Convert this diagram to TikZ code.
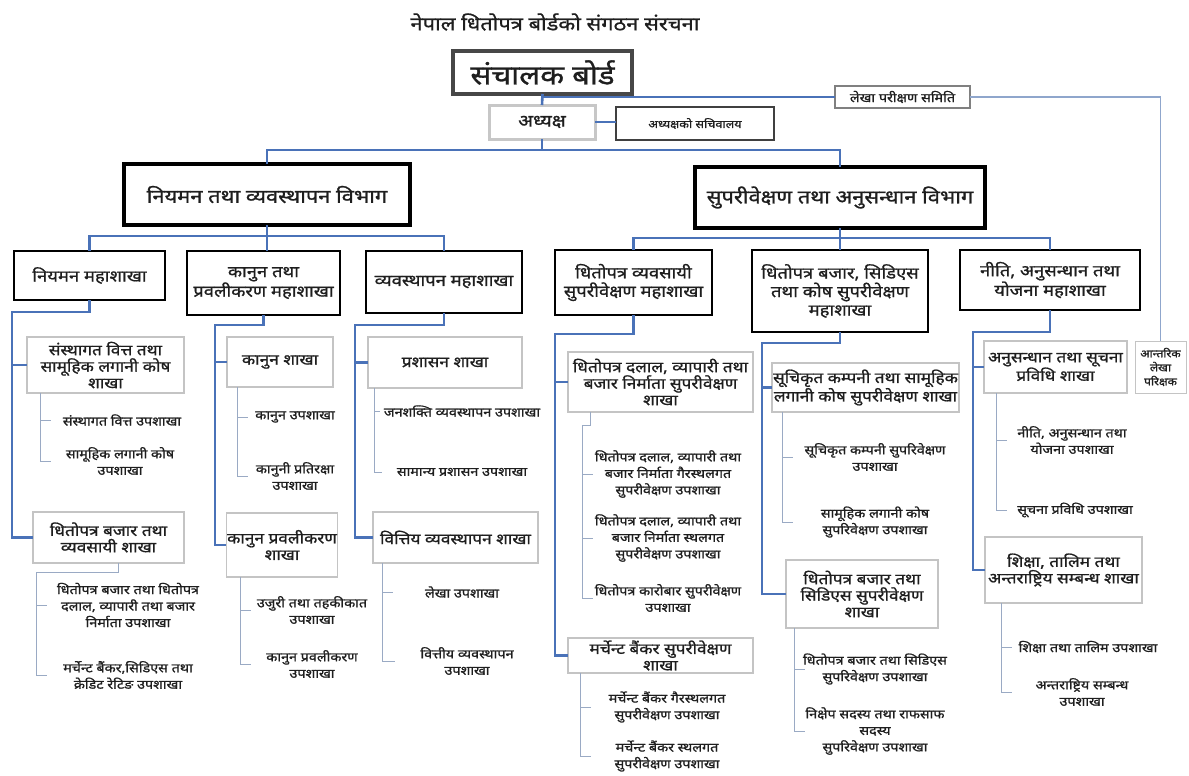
\documentclass[tikz,border=0pt]{standalone}
\usepackage{fontspec}
\setmainfont[Script=Devanagari, FakeStretch=1.15, FakeBold=1]{Noto Sans}
\usetikzlibrary{calc}
\definecolor{cblue}{HTML}{4A72B8}
\definecolor{csub}{HTML}{9AAAC4}
\definecolor{cgrey}{HTML}{C4C4C4}
\definecolor{ctext}{HTML}{1E1E1E}
\definecolor{caud}{HTML}{8FA6CC}
\newcommand\myfs[2]{\fontsize{#1}{#2}\selectfont}
\newcommand\bx[7]{\node[#6, minimum width={(#4-#2)*1pt}, minimum height={(#5-#3)*1pt}] (#1) at ({(#2+#4)/2},{(#3+#5)/2}) {#7};}
\begin{document}
\begin{tikzpicture}[x=1pt,y=-1pt,
  every node/.style={inner sep=1pt, outer sep=0pt, align=center, text=ctext},
  conn/.style={draw=cblue, line width=2.6pt},
  audl/.style={draw=caud, line width=1.5pt},
  subl/.style={draw=csub, line width=1pt},
  boardbox/.style={draw=black!72, line width=3.5pt, font=\myfs{27}{32}},
  adhbox/.style={draw=black!22, line width=3pt, font=\myfs{17}{20}},
  smallbox/.style={draw=black!75, line width=1.2pt, font=\myfs{11}{13}},
  audbox/.style={draw=black!50, line width=1.2pt, font=\myfs{12.5}{14}},
  antbox/.style={draw=cgrey, line width=1pt, font=\myfs{10.5}{14}},
  deptbox/.style={draw=black, line width=4pt, font=\myfs{19}{23}},
  mbox/.style={draw=black, line width=2.4pt, font=\myfs{16}{18.5}},
  sbox/.style={draw=cgrey, line width=1.2pt, font=\myfs{15}{16.5}},
  subtxt/.style={font=\myfs{12.5}{16.5}},
  titletxt/.style={font=\myfs{19}{22}}
]
\useasboundingbox (0,0) rectangle (1189,776);
\fill[white] (0,0) rectangle (1189,776);

\node[titletxt] (title) at (555,22) {नेपाल धितोपत्र बोर्डको संगठन संरचना};

% top level
\bx{board}{453}{51}{632}{94}{boardbox}{संचालक बोर्ड}
\bx{adh}{489}{105}{595}{139}{adhbox}{अध्यक्ष}
\bx{sachiv}{616}{107}{774}{140}{smallbox}{अध्यक्षको सचिवालय}
\bx{audit}{835}{86}{970}{108}{audbox}{लेखा परीक्षण समिति}
\bx{antarik}{1135}{341}{1186}{393}{antbox}{आन्तरिक\\लेखा\\परिक्षक}

% departments
\bx{dep1}{124}{164}{410}{225}{deptbox}{नियमन तथा व्यवस्थापन विभाग}
\bx{dep2}{695}{167}{985}{228}{deptbox}{सुपरीवेक्षण तथा अनुसन्धान विभाग}

% mahashakha
\bx{m1}{14}{251}{165}{300}{mbox}{नियमन महाशाखा}
\bx{m2}{187}{251}{340}{315}{mbox}{कानुन तथा\\प्रवलीकरण महाशाखा}
\bx{m3}{366}{251}{522}{313}{mbox}{व्यवस्थापन महाशाखा}
\bx{m4}{555}{250}{712}{315}{mbox}{धितोपत्र व्यवसायी\\सुपरीवेक्षण महाशाखा}
\bx{m5}{752}{250}{928}{332}{mbox}{धितोपत्र बजार, सिडिएस\\तथा कोष सुपरीवेक्षण\\महाशाखा}
\bx{m6}{960}{250}{1140}{310}{mbox}{नीति, अनुसन्धान तथा\\योजना महाशाखा}

% shakha
\bx{s11}{27}{337}{184}{393}{sbox}{संस्थागत वित्त तथा\\सामूहिक लगानी कोष\\शाखा}
\bx{s12}{33}{512}{184}{563}{sbox}{धितोपत्र बजार तथा\\व्यवसायी शाखा}
\bx{s21}{227}{337}{333}{387}{sbox}{कानुन शाखा}
\bx{s22}{227}{513}{337}{577}{sbox}{कानुन प्रवलीकरण\\शाखा}
\bx{s31}{368}{337}{522}{388}{sbox}{प्रशासन शाखा}
\bx{s32}{373}{512}{538}{563}{sbox}{वित्तिय व्यवस्थापन शाखा}
\bx{s41}{568}{352}{753}{412}{sbox}{धितोपत्र दलाल, व्यापारी तथा\\बजार निर्माता सुपरीवेक्षण\\शाखा}
\bx{s42}{568}{638}{753}{673}{sbox}{मर्चेन्ट बैंकर सुपरीवेक्षण\\शाखा}
\bx{s51}{773}{363}{958}{412}{sbox}{सूचिकृत कम्पनी तथा सामूहिक\\लगानी कोष सुपरीवेक्षण शाखा}
\bx{s52}{786}{560}{938}{628}{sbox}{धितोपत्र बजार तथा\\सिडिएस सुपरीवेक्षण\\शाखा}
\bx{s61}{984}{341}{1127}{393}{sbox}{अनुसन्धान तथा सूचना\\प्रविधि शाखा}
\bx{s62}{985}{537}{1142}{603}{sbox}{शिक्षा, तालिम तथा\\अन्तराष्ट्रिय सम्बन्ध शाखा}

% sub-branch texts
\node[subtxt] (t111) at (122,420) {संस्थागत वित्त उपशाखा};
\node[subtxt] (t112) at (120,461) {सामूहिक लगानी कोष\\उपशाखा};
\node[subtxt] (t121) at (128,605) {धितोपत्र बजार तथा धितोपत्र\\दलाल, व्यापारी तथा बजार\\निर्माता उपशाखा};
\node[subtxt] (t122) at (128,675) {मर्चेन्ट बैंकर,सिडिएस तथा\\क्रेडिट रेटिङ उपशाखा};
\node[subtxt] (t211) at (295,417) {कानुन उपशाखा};
\node[subtxt] (t212) at (295,476) {कानुनी प्रतिरक्षा\\उपशाखा};
\node[subtxt] (t221) at (312,610) {उजुरी तथा तहकीकात\\उपशाखा};
\node[subtxt] (t222) at (312,664) {कानुन प्रवलीकरण\\उपशाखा};
\node[subtxt] (t311) at (462,411) {जनशक्ति व्यवस्थापन उपशाखा};
\node[subtxt] (t312) at (462,472) {सामान्य प्रशासन उपशाखा};
\node[subtxt] (t321) at (462,592) {लेखा उपशाखा};
\node[subtxt] (t322) at (467,661) {वित्तीय व्यवस्थापन\\उपशाखा};
\node[subtxt] (t411) at (668,474) {धितोपत्र दलाल, व्यापारी तथा\\बजार निर्माता गैरस्थलगत\\सुपरीवेक्षण उपशाखा};
\node[subtxt] (t412) at (668,538) {धितोपत्र दलाल, व्यापारी तथा\\बजार निर्माता स्थलगत\\सुपरीवेक्षण उपशाखा};
\node[subtxt] (t413) at (668,598) {धितोपत्र कारोबार सुपरीवेक्षण\\उपशाखा};
\node[subtxt] (t421) at (667,707) {मर्चेन्ट बैंकर गैरस्थलगत\\सुपरीवेक्षण उपशाखा};
\node[subtxt] (t422) at (667,756) {मर्चेन्ट बैंकर स्थलगत\\सुपरीवेक्षण उपशाखा};
\node[subtxt] (t511) at (875,457) {सूचिकृत कम्पनी सुपरिवेक्षण\\उपशाखा};
\node[subtxt] (t512) at (875,522) {सामूहिक लगानी कोष\\सुपरिवेक्षण उपशाखा};
\node[subtxt] (t521) at (875,669) {धितोपत्र बजार तथा सिडिएस\\सुपरिवेक्षण उपशाखा};
\node[subtxt] (t522) at (875,731) {निक्षेप सदस्य तथा राफसाफ\\सदस्य\\सुपरिवेक्षण उपशाखा};
\node[subtxt] (t611) at (1072,440) {नीति, अनुसन्धान तथा\\योजना उपशाखा};
\node[subtxt] (t612) at (1075,510) {सूचना प्रविधि उपशाखा};
\node[subtxt] (t621) at (1088,647) {शिक्षा तथा तालिम उपशाखा};
\node[subtxt] (t622) at (1082,692) {अन्तराष्ट्रिय सम्बन्ध\\उपशाखा};

% ---- main connectors
\coordinate (jA) at (542,150);
\draw[conn] (board.south) -- (adh.north);
\draw[conn] (board.south |- audit.west) -- (audit.west);
\draw[audl] (audit.east) -| (antarik.north);
\draw[conn] (adh.east) -- (adh.east -| sachiv.west);
\draw[conn] (adh.south) -- (jA);
\draw[conn] (dep1.north) |- (jA) -| (dep2.north);

\coordinate (jB) at (267,236);
\draw[conn] (dep1.south) -- (jB);
\draw[conn] (m1.north) |- (jB) -| (m3.north);
\draw[conn] (jB) -- (jB |- m2.north);
\coordinate (jC) at (840,238);
\draw[conn] (dep2.south) -- (jC);
\draw[conn] (m4.north) |- (jC) -| (m6.north);
\draw[conn] (jC) -- (jC |- m5.north);

% columns
\coordinate (k1) at (12,312);
\draw[conn] (m1.south) |- (k1) |- (s12.west);
\draw[conn] (k1 |- s11.west) -- (s11.west);
\coordinate (k2) at (215,325);
\draw[conn] (m2.south) |- (k2) |- (s22.west);
\draw[conn] (k2 |- s21.west) -- (s21.west);
\coordinate (k3) at (355,325);
\draw[conn] (m3.south) |- (k3) |- (s32.west);
\draw[conn] (k3 |- s31.west) -- (s31.west);
\coordinate (k4) at (555,334);
\draw[conn] (m4.south) |- (k4) |- (s42.west);
\draw[conn] (k4 |- s41.west) -- (s41.west);
\coordinate (k5) at (762,343);
\draw[conn] (m5.south) |- (k5) |- (s52.west);
\draw[conn] (k5 |- s51.west) -- (s51.west);
\coordinate (k6) at (973,332);
\draw[conn] (m6.south) |- (k6) |- (s62.west);
\draw[conn] (k6 |- s61.west) -- (s61.west);

% sub connectors
\coordinate (v11) at (40,393);
\draw[subl] (v11) -- (v11 |- t112) -- ++(11,0);
\draw[subl] (v11 |- t111) -- ++(11,0);
\coordinate (v12a) at (118,563);
\coordinate (v12) at (36,572);
\draw[subl] (v12a) |- (v12) -- (v12 |- t122) -- ++(11,0);
\draw[subl] (v12 |- t121) -- ++(11,0);
\coordinate (v21) at (237,387);
\draw[subl] (v21) -- (v21 |- t212) -- ++(11,0);
\draw[subl] (v21 |- t211) -- ++(11,0);
\coordinate (v22) at (240,577);
\draw[subl] (v22) -- (v22 |- t222) -- ++(11,0);
\draw[subl] (v22 |- t221) -- ++(11,0);
\coordinate (v31) at (374,388);
\draw[subl] (v31) -- (v31 |- t312) -- ++(8,0);
\draw[subl] (v31 |- t311) -- ++(6,0);
\coordinate (v32) at (382,563);
\draw[subl] (v32) -- (v32 |- t322) -- ++(13,0);
\draw[subl] (v32 |- t321) -- ++(11,0);
\coordinate (v41a) at (590,412);
\coordinate (v41) at (582,425);
\draw[subl] (v41a) |- (v41) -- (v41 |- t413) -- ++(11,0);
\draw[subl] (v41 |- t411) -- ++(11,0);
\draw[subl] (v41 |- t412) -- ++(11,0);
\coordinate (v42) at (580,673);
\draw[subl] (v42) -- (v42 |- t422) -- ++(11,0);
\draw[subl] (v42 |- t421) -- ++(11,0);
\coordinate (v51) at (782,412);
\draw[subl] (v51) -- (v51 |- t512) -- ++(11,0);
\draw[subl] (v51 |- t511) -- ++(11,0);
\coordinate (v52) at (794,628);
\draw[subl] (v52) -- (v52 |- t522) -- ++(11,0);
\draw[subl] (v52 |- t521) -- ++(11,0);
\coordinate (v61) at (996,393);
\draw[subl] (v61) -- (v61 |- t612) -- ++(11,0);
\draw[subl] (v61 |- t611) -- ++(11,0);
\coordinate (v62) at (1001,603);
\draw[subl] (v62) -- (v62 |- t622) -- ++(11,0);
\draw[subl] (v62 |- t621) -- ++(11,0);
\end{tikzpicture}
\end{document}
